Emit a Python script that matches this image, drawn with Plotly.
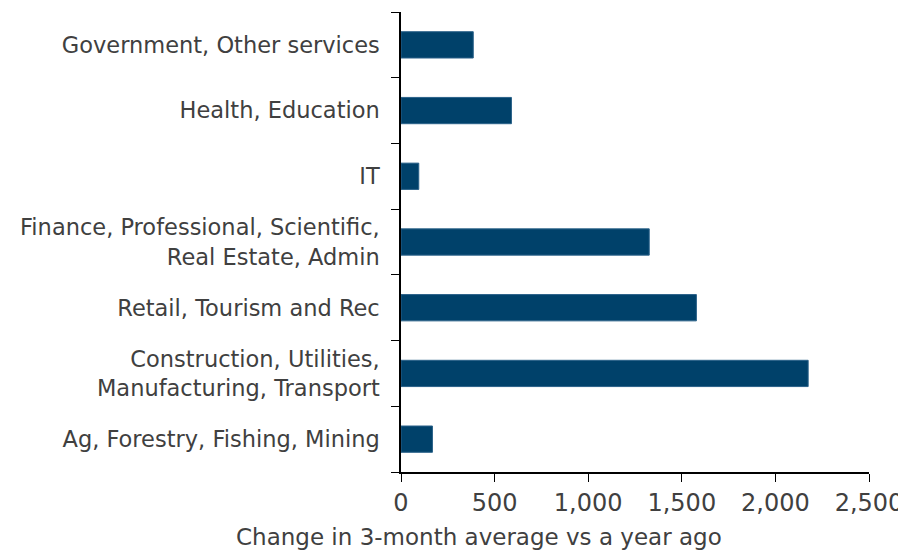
import plotly.graph_objects as go

categories = [
    "Ag, Forestry, Fishing, Mining",
    "Construction, Utilities,<br>Manufacturing, Transport",
    "Retail, Tourism and Rec",
    "Finance, Professional, Scientific,<br>Real Estate, Admin",
    "IT",
    "Health, Education",
    "Government, Other services",
]
values = [168, 2175, 1578, 1326, 95, 590, 386]
x_ticks = [0, 500, 1000, 1500, 2000, 2500]
x_title = "Change in 3-month average vs a year ago"

fig = go.Figure(go.Bar(
    y=categories, x=values, orientation="h",
    marker=dict(color="#00416A", line=dict(color="#2a6189", width=1)),
    width=0.4,
))
font = dict(family="DejaVu Sans, sans-serif", size=22, color="#404040")
fig.update_layout(
    width=906, height=550,
    margin=dict(l=393, r=45, t=4, b=86),
    plot_bgcolor="white", paper_bgcolor="white",
    font=font, showlegend=False,
    bargap=0.6,
)
fig.add_annotation(
    text=x_title, xref="paper", yref="paper", x=0.1667, y=0,
    xanchor="center", yanchor="middle", yshift=-65, showarrow=False,
    font=dict(family="DejaVu Sans, sans-serif", size=23, color="#404040"),
)
fig.update_xaxes(
    range=[0, 2500], tickvals=x_ticks, tickformat=",",
    tickfont=dict(family="DejaVu Sans, sans-serif", size=24, color="#404040"),
    showline=True, linecolor="#000000", linewidth=1.5,
    ticks="outside", ticklen=8, tickcolor="#000000",
    showgrid=False, zeroline=False, automargin=False,
)
fig.update_yaxes(
    showline=True, linecolor="#000000", linewidth=1.5,
    ticks="outside", ticklen=8, tickcolor="#000000",
    tickfont=dict(family="DejaVu Sans, sans-serif", size=22.5, color="#404040"),
    tickson="boundaries", showgrid=False, automargin=False,
    ticklabelstandoff=15,
)
fig.write_html("out.html")
